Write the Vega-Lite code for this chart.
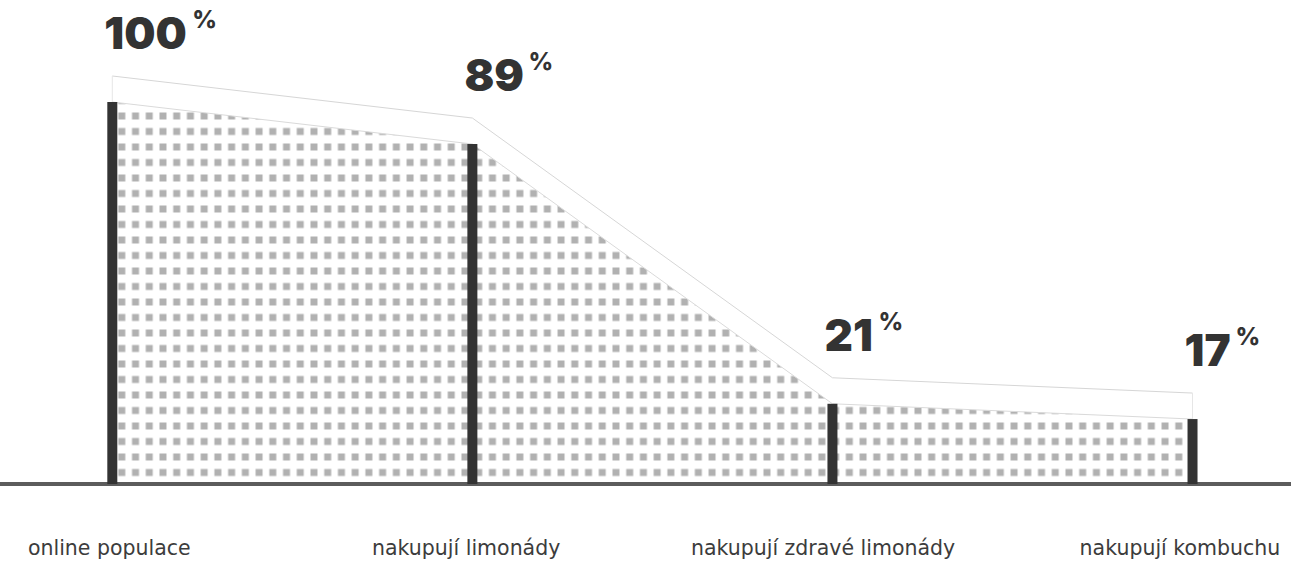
{
  "$schema": "https://vega.github.io/schema/vega-lite/v6.json",
  "width": 1291,
  "height": 561,
  "autosize": {"type": "none"},
  "padding": 0,
  "background": "#ffffff",
  "config": {"view": {"stroke": null}, "axis": {"disable": true}},
  "data": {
    "values": [
      {"label": "online populace", "step": 0, "value": 100},
      {"label": "nakupují limonády", "step": 1, "value": 89},
      {"label": "nakupují zdravé limonády", "step": 2, "value": 21},
      {"label": "nakupují kombuchu", "step": 3, "value": 17}
    ]
  },
  "layer": [
    {
      "mark": {"type": "area", "fill": "#b1b1b1", "interpolate": "linear"},
      "encoding": {
        "x": {"field": "step", "type": "quantitative", "scale": {"domain": [-0.3119, 3.2735], "nice": false, "zero": false}, "axis": null},
        "y": {"field": "value", "type": "quantitative", "scale": {"domain": [-20.157, 126.7], "nice": false, "zero": false}, "axis": null},
        "y2": {"datum": 0}
      }
    },
    {
      "data": {"values": [{}]},
      "mark": {"type": "rule", "stroke": "#ffffff", "strokeWidth": 1092, "strokeDash": [7.5, 8.0], "strokeDashOffset": 0.0, "strokeCap": "butt"},
      "encoding": {
        "x": {"datum": 1.5, "type": "quantitative", "scale": {"domain": [-0.3119, 3.2735], "nice": false, "zero": false}, "axis": null},
        "y": {"datum": 0, "type": "quantitative", "scale": {"domain": [-20.157, 126.7], "nice": false, "zero": false}, "axis": null},
        "y2": {"datum": 100}
      }
    },
    {
      "data": {"values": [{}]},
      "mark": {"type": "rule", "stroke": "#ffffff", "opacity": 0.5, "strokeWidth": 1092, "strokeDash": [9.5, 6.0], "strokeDashOffset": 1.0, "strokeCap": "butt"},
      "encoding": {
        "x": {"datum": 1.5, "type": "quantitative", "scale": {"domain": [-0.3119, 3.2735], "nice": false, "zero": false}, "axis": null},
        "y": {"datum": 0, "type": "quantitative", "scale": {"domain": [-20.157, 126.7], "nice": false, "zero": false}, "axis": null},
        "y2": {"datum": 100}
      }
    },
    {
      "data": {"values": [{}]},
      "mark": {"type": "rule", "stroke": "#ffffff", "strokeWidth": 392, "strokeDash": [5.727, 8.0], "strokeDashOffset": 0.227, "strokeCap": "butt"},
      "encoding": {
        "x": {"datum": 0, "type": "quantitative", "scale": {"domain": [-0.3119, 3.2735], "nice": false, "zero": false}, "axis": null},
        "x2": {"datum": 3},
        "y": {"datum": 50, "type": "quantitative", "scale": {"domain": [-20.157, 126.7], "nice": false, "zero": false}, "axis": null}
      }
    },
    {
      "data": {"values": [{}]},
      "mark": {"type": "rule", "stroke": "#ffffff", "opacity": 0.5, "strokeWidth": 392, "strokeDash": [7.727, 6.0], "strokeDashOffset": 1.227, "strokeCap": "butt"},
      "encoding": {
        "x": {"datum": 0, "type": "quantitative", "scale": {"domain": [-0.3119, 3.2735], "nice": false, "zero": false}, "axis": null},
        "x2": {"datum": 3},
        "y": {"datum": 50, "type": "quantitative", "scale": {"domain": [-20.157, 126.7], "nice": false, "zero": false}, "axis": null}
      }
    },
    {
      "mark": {"type": "line", "stroke": "#dadada", "strokeWidth": 1, "interpolate": "linear"},
      "encoding": {
        "x": {"field": "step", "type": "quantitative", "scale": {"domain": [-0.3119, 3.2735], "nice": false, "zero": false}, "axis": null},
        "y": {"field": "value", "type": "quantitative", "scale": {"domain": [-20.157, 126.7], "nice": false, "zero": false}, "axis": null}
      }
    },
    {
      "mark": {"type": "line", "stroke": "#d6d6d6", "strokeWidth": 1, "yOffset": -26, "interpolate": "linear"},
      "encoding": {
        "x": {"field": "step", "type": "quantitative", "scale": {"domain": [-0.3119, 3.2735], "nice": false, "zero": false}, "axis": null},
        "y": {"field": "value", "type": "quantitative", "scale": {"domain": [-20.157, 126.7], "nice": false, "zero": false}, "axis": null}
      }
    },
    {
      "transform": [{"filter": "datum.step == 0 || datum.step == 3"}],
      "mark": {"type": "rule", "stroke": "#e6e6e6", "strokeWidth": 1, "y2Offset": -26},
      "encoding": {
        "x": {"field": "step", "type": "quantitative", "scale": {"domain": [-0.3119, 3.2735], "nice": false, "zero": false}, "axis": null},
        "y": {"field": "value", "type": "quantitative", "scale": {"domain": [-20.157, 126.7], "nice": false, "zero": false}, "axis": null},
        "y2": {"field": "value"}
      }
    },
    {
      "data": {"values": [{}]},
      "mark": {"type": "rule", "stroke": "#5c5c5c", "strokeWidth": 4},
      "encoding": {
        "y": {"datum": 0, "type": "quantitative", "scale": {"domain": [-20.157, 126.7], "nice": false, "zero": false}, "axis": null}
      }
    },
    {
      "mark": {"type": "rule", "stroke": "#333333", "strokeWidth": 10, "strokeCap": "butt"},
      "encoding": {
        "x": {"field": "step", "type": "quantitative", "scale": {"domain": [-0.3119, 3.2735], "nice": false, "zero": false}, "axis": null},
        "y": {"field": "value", "type": "quantitative", "scale": {"domain": [-20.157, 126.7], "nice": false, "zero": false}, "axis": null},
        "y2": {"datum": 0}
      }
    },
    {
      "mark": {"type": "text", "align": "left", "baseline": "alphabetic", "dx": -8, "dy": -53, "font": "Inter", "fontWeight": 900, "fontSize": 44, "fill": "#333333"},
      "encoding": {
        "x": {"field": "step", "type": "quantitative", "scale": {"domain": [-0.3119, 3.2735], "nice": false, "zero": false}, "axis": null},
        "y": {"field": "value", "type": "quantitative", "scale": {"domain": [-20.157, 126.7], "nice": false, "zero": false}, "axis": null},
        "text": {"field": "value", "type": "quantitative", "format": "d"}
      }
    },
    {
      "mark": {"type": "text", "align": "left", "baseline": "alphabetic", "dx": {"expr": "-2 + 29*length(toString(datum.value)) - 10*(length(split(toString(datum.value), '1')) - 1) + 2.5*(length(split(toString(datum.value), '0')) - 1) - 3*(length(split(toString(datum.value), '7')) - 1)"}, "dy": -74, "font": "Inter", "fontWeight": 800, "fontSize": 24, "fill": "#333333", "text": "%"},
      "encoding": {
        "x": {"field": "step", "type": "quantitative", "scale": {"domain": [-0.3119, 3.2735], "nice": false, "zero": false}, "axis": null},
        "y": {"field": "value", "type": "quantitative", "scale": {"domain": [-20.157, 126.7], "nice": false, "zero": false}, "axis": null}
      }
    },
    {
      "mark": {"type": "text", "align": "center", "baseline": "alphabetic", "dx": {"expr": "-3 - 3.2*datum.step"}, "dy": 71, "font": "DejaVu Sans", "fontSize": 20.5, "fill": "#3c3c3c"},
      "encoding": {
        "x": {"field": "step", "type": "quantitative", "scale": {"domain": [-0.3119, 3.2735], "nice": false, "zero": false}, "axis": null},
        "y": {"datum": 0, "type": "quantitative", "scale": {"domain": [-20.157, 126.7], "nice": false, "zero": false}, "axis": null},
        "text": {"field": "label", "type": "nominal"}
      }
    }
  ]
}
